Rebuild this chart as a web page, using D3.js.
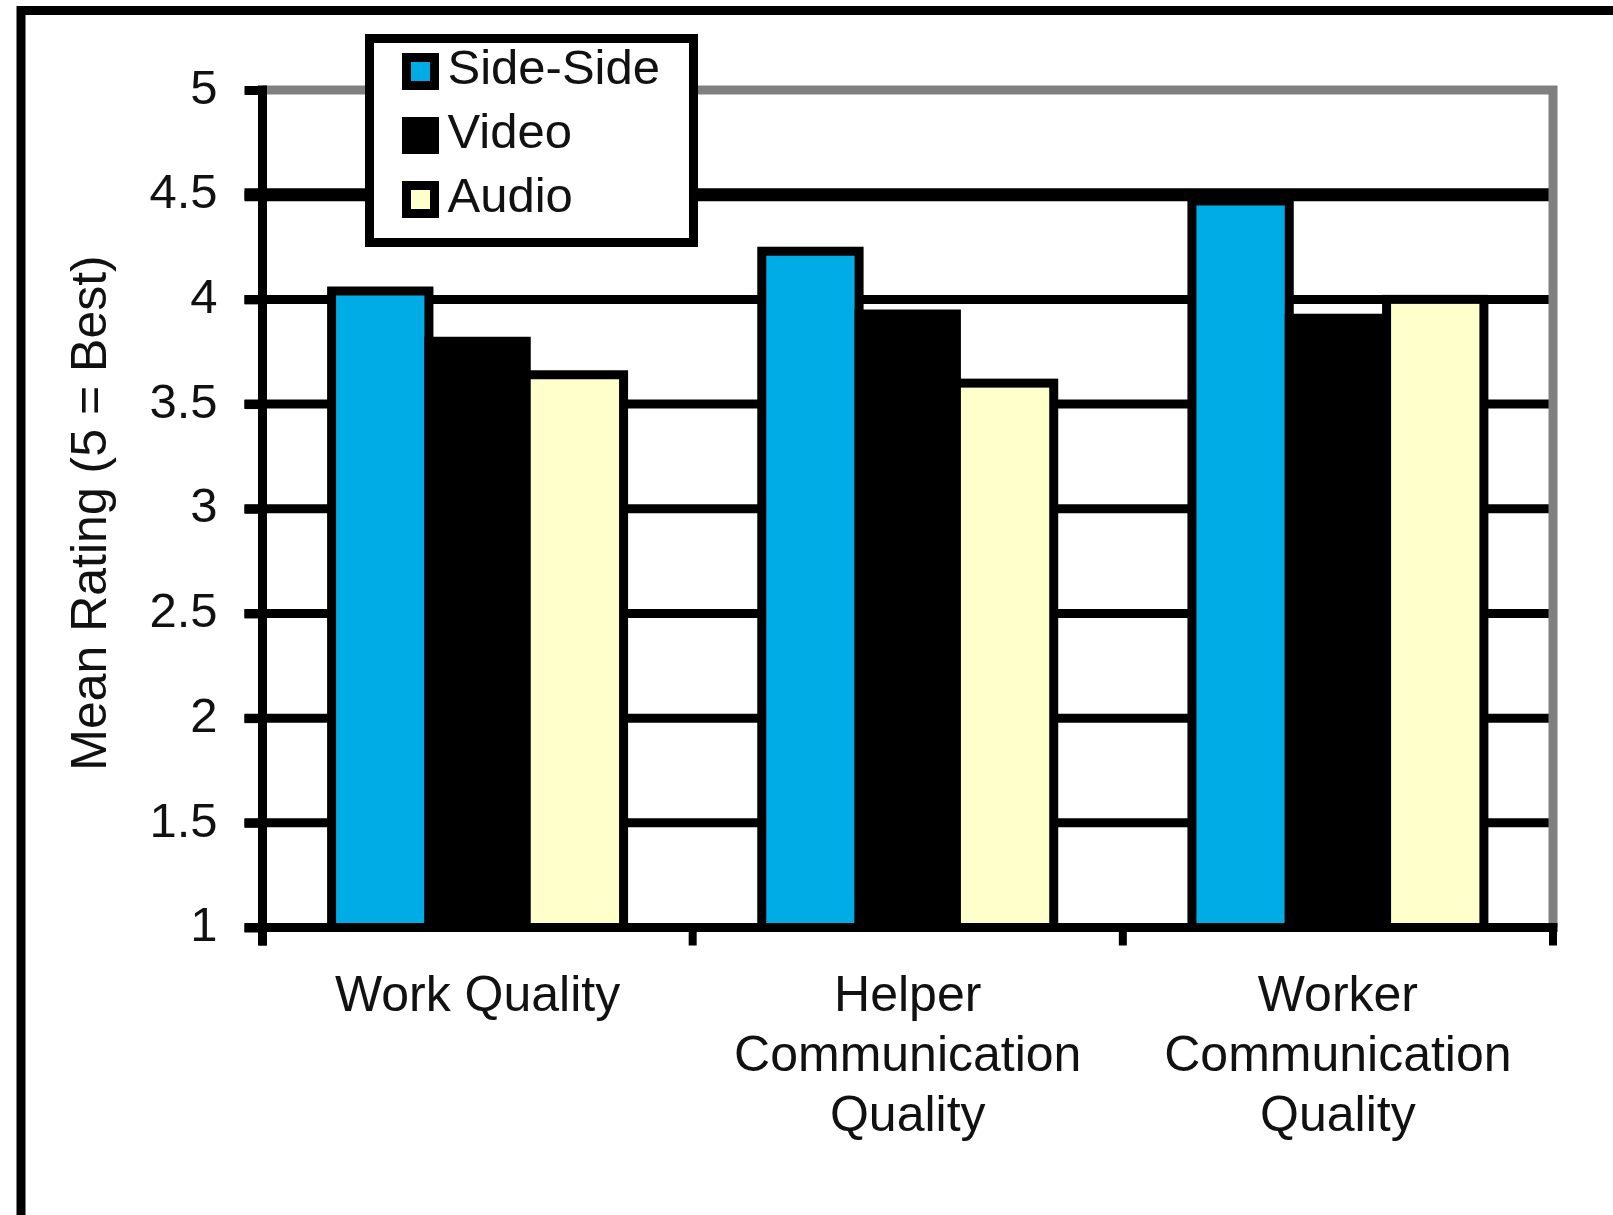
<!DOCTYPE html>
<html>
<head>
<meta charset="utf-8">
<script src="https://cdn.jsdelivr.net/npm/d3@7"></script>
<style>
  body { margin: 0; background: #fff; }
  svg text { font-family: "Liberation Sans", Arial, sans-serif; fill: #111; }
</style>
</head>
<body>
<script>
// data
var categories = ["Work Quality", "Helper Communication Quality", "Worker Communication Quality"];
var catLines = [["Work Quality"], ["Helper", "Communication", "Quality"], ["Worker", "Communication", "Quality"]];
var series = ["Side-Side", "Video", "Audio"];
var sideSide = [4.04, 4.23, 4.47];
var video = [3.80, 3.93, 3.91];
var audio = [3.64, 3.60, 4.00];
var yTicks = [1, 1.5, 2, 2.5, 3, 3.5, 4, 4.5, 5];
var colors = ["#00ace6", "#000000", "#ffffcc"];
var yTitle = "Mean Rating (5 = Best)";

var values = [sideSide, video, audio];

///////////////////////////
// SVG
var W = 1613, H = 1215;
var svg = d3.select("body").append("svg")
  .attr("width", W)
  .attr("height", H);

// outer frame (only top and left edges show)
svg.append("rect")
  .attr("x", 21).attr("y", 10.5)
  .attr("width", W + 50).attr("height", H + 50)
  .attr("fill", "none")
  .attr("stroke", "#000")
  .attr("stroke-width", 9);

var pLeft = 262.5, pRight = 1553, pTop = 90, pBottom = 927.5;
var tick = 18;

var y = d3.scaleLinear().domain([1, 5]).range([pBottom, pTop]);
var x0 = d3.scaleBand().domain(categories).range([pLeft, pRight]);
var barW = x0.bandwidth() / 4.42;
var x1 = d3.scaleBand().domain(series).range([0, barW * 3]);
var groupOff = (x0.bandwidth() - barW * 3) / 2;

///////////////////////////
// GRIDLINES
svg.append("g")
  .selectAll("line")
  .data(yTicks.filter(function(d){ return d > 1 && d < 5; }))
  .enter()
  .append("line")
  .attr("x1", pLeft - tick)
  .attr("x2", pRight)
  .attr("y1", function(d){ return y(d); })
  .attr("y2", function(d){ return y(d); })
  .attr("stroke", "#000")
  .attr("stroke-width", function(d){ return d == 4.5 ? 13 : 9; });

// plot area border, top and right (grey)
svg.append("path")
  .attr("d", "M" + pLeft + "," + y(5) + "H" + pRight + "V" + y(1))
  .attr("fill", "none")
  .attr("stroke", "#808080")
  .attr("stroke-width", 9);

///////////////////////////
// BARS
series.forEach(function(s, si){
  svg.append("g")
    .selectAll("rect")
    .data(values[si])
    .enter()
    .append("rect")
    .attr("x", function(d, i){ return x0(categories[i]) + groupOff + x1(s); })
    .attr("y", function(d){ return y(d); })
    .attr("width", x1.bandwidth())
    .attr("height", function(d){ return y(1) - y(d); })
    .attr("fill", colors[si])
    .attr("stroke", "#000")
    .attr("stroke-width", 9);
});

///////////////////////////
// AXES
var yAxis = svg.append("g")
  .attr("transform", "translate(" + pLeft + ",0)")
  .call(d3.axisLeft(y).tickValues(yTicks).tickSize(tick).tickPadding(27).tickFormat(d3.format("")));
yAxis.select(".domain").remove();
yAxis.selectAll("line").attr("stroke", "#000").attr("stroke-width", 9);
yAxis.selectAll("text")
  .style("font-size", "49px")
  .attr("dy", "0.27em");

// y axis line
svg.append("line")
  .attr("x1", pLeft).attr("x2", pLeft)
  .attr("y1", y(5) - 4.5).attr("y2", y(1) + tick)
  .attr("stroke", "#000")
  .attr("stroke-width", 9);

// x axis line + ticks at band edges
svg.append("line")
  .attr("x1", pLeft - tick).attr("x2", pRight + 4.5)
  .attr("y1", y(1)).attr("y2", y(1))
  .attr("stroke", "#000")
  .attr("stroke-width", 9);

var edges = categories.map(function(c){ return x0(c); }).concat([pRight]);
svg.append("g")
  .selectAll("line")
  .data(edges)
  .enter()
  .append("line")
  .attr("x1", function(d){ return d; })
  .attr("x2", function(d){ return d; })
  .attr("y1", y(1))
  .attr("y2", y(1) + tick)
  .attr("stroke", "#000")
  .attr("stroke-width", 8);

// category labels
var catG = svg.append("g")
  .selectAll("text")
  .data(categories)
  .enter()
  .append("text")
  .attr("x", function(d){ return x0(d) + x0.bandwidth() / 2; })
  .attr("y", 1011)
  .attr("text-anchor", "middle")
  .style("font-size", "50px");
catG.selectAll("tspan")
  .data(function(d, i){ return catLines[i]; })
  .enter()
  .append("tspan")
  .attr("x", function(){ return d3.select(this.parentNode).attr("x"); })
  .attr("dy", function(d, i){ return i == 0 ? 0 : 60; })
  .text(function(d){ return d; });

// y axis title
svg.append("text")
  .attr("transform", "translate(106,513) rotate(-90)")
  .attr("text-anchor", "middle")
  .style("font-size", "50px")
  .text(yTitle);

///////////////////////////
// LEGEND
var lg = svg.append("g").attr("transform", "translate(369.5,38.5)");
lg.append("rect")
  .attr("width", 324).attr("height", 204)
  .attr("fill", "#fff")
  .attr("stroke", "#000")
  .attr("stroke-width", 9);
var rows = lg.selectAll("g.row")
  .data(series)
  .enter()
  .append("g")
  .attr("class", "row")
  .attr("transform", function(d, i){ return "translate(0," + (33 + i * 64) + ")"; });
rows.append("rect")
  .attr("x", 37).attr("y", -14)
  .attr("width", 28).attr("height", 28)
  .attr("fill", function(d, i){ return colors[i]; })
  .attr("stroke", "#000")
  .attr("stroke-width", 9);
rows.append("text")
  .attr("x", 78)
  .attr("y", 12)
  .style("font-size", "49px")
  .text(function(d){ return d; });
</script>
</body>
</html>
